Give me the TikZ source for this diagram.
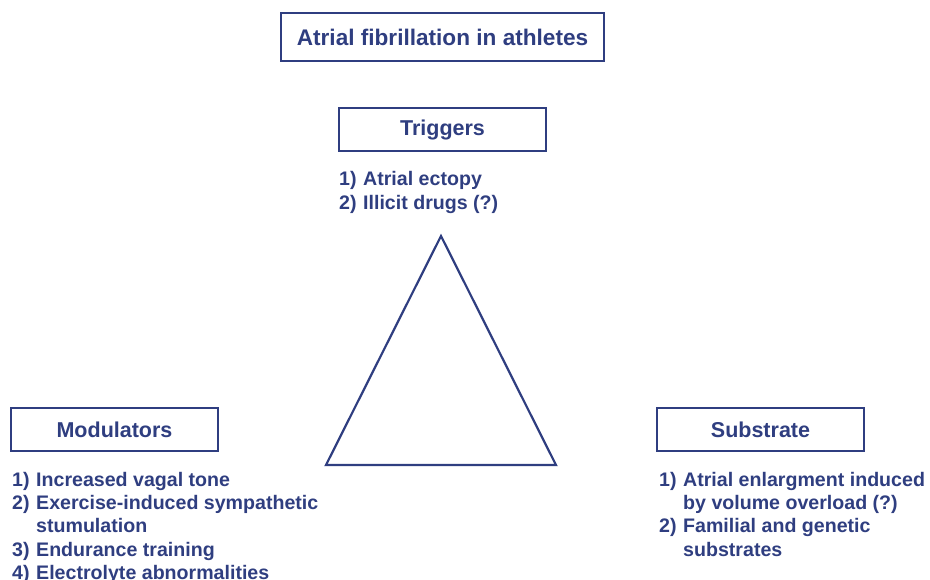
\documentclass[tikz,border=0pt]{standalone}
\usepackage{fontspec}
\setmainfont{Liberation Sans}
\definecolor{navy}{RGB}{47,62,128}
\tikzset{
  box/.style={draw=navy, line width=2.5pt, text=navy, font=\bfseries\fontsize{21.5}{24}\selectfont,
    minimum width=207pt, minimum height=43pt, inner sep=0pt},
  titlebox/.style={box, minimum width=323pt, minimum height=48pt, font=\bfseries\fontsize{22.6}{26}\selectfont},
  listtext/.style={text=navy, font=\bfseries\fontsize{19.6}{23.4}\selectfont, align=left, inner sep=0pt, anchor=base west},
  tri/.style={draw=navy, line width=2.2pt, line join=miter}
}
\newcommand{\num}[1]{\makebox[24pt][l]{#1}}
\newcommand{\cont}{\hspace*{24pt}}
\begin{document}
\begin{tikzpicture}[x=1pt,y=-1pt]
\useasboundingbox (0,0) rectangle (930,580);
\node[titlebox] (title) at (442.5,37) {Atrial fibrillation in athletes};
\node[box] (trig) at (442.5,129.5) {Triggers};
\node[box] (mod) at (114.5,429.5) {Modulators};
\node[box] (sub) at (760.5,429.5) {Substrate};
\node[listtext] (triglist) at (339,209.4) {\num{1)}Atrial ectopy\\\num{2)}Illicit drugs (?)};
\node[listtext] (modlist) at (12,579.6) {\num{1)}Increased vagal tone\\\num{2)}Exercise-induced sympathetic\\\cont stumulation\\\num{3)}Endurance training\\\num{4)}Electrolyte abnormalities};
\node[listtext] (sublist) at (659,556.2) {\num{1)}Atrial enlargment induced\\\cont by volume overload (?)\\\num{2)}Familial and genetic\\\cont substrates};
\coordinate (apex) at (441,236);
\coordinate (bl) at (326,465);
\coordinate (br) at (556,465);
\draw[tri] (apex) -- (bl) -- (br) -- cycle;
\end{tikzpicture}
\end{document}
